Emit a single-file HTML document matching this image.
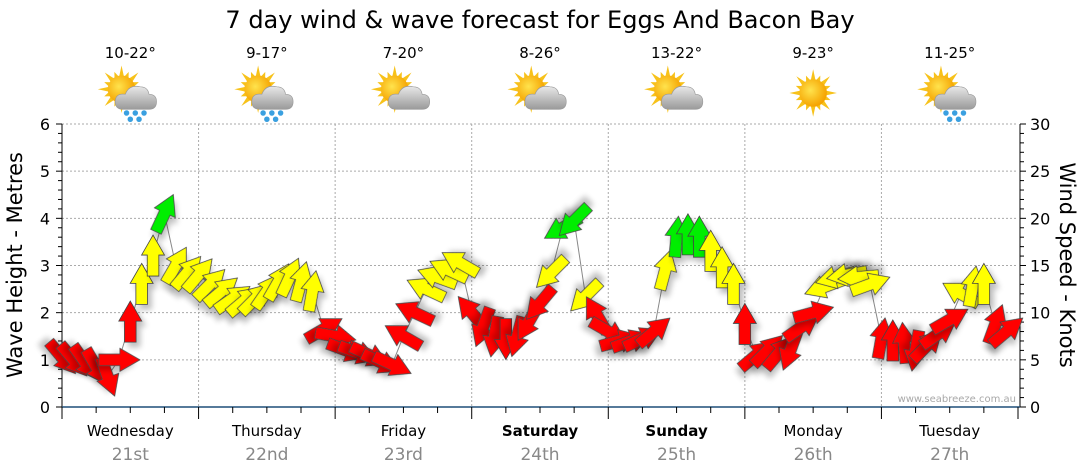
<!DOCTYPE html>
<html><head><meta charset="utf-8">
<style>
html,body{margin:0;padding:0;background:#fff;}
svg{display:block;font-family:"DejaVu Sans","Liberation Sans",sans-serif;}
</style></head>
<body>
<svg id="chart" width="1080" height="475" viewBox="0 0 1080 475" xmlns="http://www.w3.org/2000/svg">
<defs>
<filter id="sh" x="-50%" y="-50%" width="200%" height="200%"><feGaussianBlur in="SourceAlpha" stdDeviation="3"/><feOffset dx="4" dy="5" result="b"/><feComponentTransfer><feFuncA type="linear" slope="0.25"/></feComponentTransfer><feMerge><feMergeNode/><feMergeNode in="SourceGraphic"/></feMerge></filter>
<radialGradient id="sunG" cx="0.4" cy="0.4" r="0.6"><stop offset="0" stop-color="#ffe34d"/><stop offset="1" stop-color="#f5a300"/></radialGradient>
<linearGradient id="cloudG" x1="0" y1="0" x2="0" y2="1"><stop offset="0" stop-color="#e8e8e8"/><stop offset="1" stop-color="#9a9a9a"/></linearGradient>
</defs>
<text x="540" y="28" text-anchor="middle" font-size="24" fill="#000">7 day wind &amp; wave forecast for Eggs And Bacon Bay</text>
<g id="grid"></g>
<g id="axes"></g>
<g id="icons"></g>
<g id="series"></g>
<text transform="translate(22,265) rotate(-90)" text-anchor="middle" font-size="21" fill="#000">Wave Height - Metres</text>
<text transform="translate(1060,265) rotate(90)" text-anchor="middle" font-size="21" fill="#000">Wind Speed - Knots</text>
<text x="1016" y="402" text-anchor="end" font-size="10" fill="#a8a8a8">www.seabreeze.com.au</text>
</svg>
<script>
const dayNames = ["Wednesday","Thursday","Friday","Saturday","Sunday","Monday","Tuesday"];
const dayDates = ["21st","22nd","23rd","24th","25th","26th","27th"];
const boldDays = [false,false,false,true,true,false,false];
const tempLabels = ["10-22°","9-17°","7-20°","8-26°","13-22°","9-23°","11-25°"];
const weatherTypes = ["rain","rain","cloud","cloud","cloud","sun","rain"];
const waveTicks = [0,1,2,3,4,5,6];
const windTicks = [0,5,10,15,20,25,30];
// hours from start (2-hourly)
const hours = [0,2,4,6,8,10,12,14,16,18,20,22,24,26,28,30,32,34,36,38,40,42,44,46,48,50,52,54,56,58,60,62,64,66,68,70,72,74,76,78,80,82,84,86,88,90,92,94,96,98,100,102,104,106,108,110,112,114,116,118,120,122,124,126,128,130,132,134,136,138,140,142,144,146,148,150,152,154,156,158,160,162,164,166];
const waveHeight = [1.05,1.0,0.95,0.85,0.65,1.0,1.8,2.6,3.2,4.1,3.0,2.85,
 2.8,2.6,2.45,2.3,2.25,2.3,2.45,2.65,2.75,2.65,2.45,1.65,
 1.5,1.2,1.15,1.1,0.95,0.9,1.5,2.0,2.5,2.75,2.9,3.05,
 2.0,1.7,1.5,1.45,1.5,1.8,2.2,2.85,3.8,3.95,2.35,1.95,
 1.6,1.4,1.4,1.45,1.6,2.9,3.6,3.65,3.6,3.3,2.95,2.6,
 1.75,1.1,1.2,1.15,1.2,1.7,2.0,2.55,2.75,2.8,2.75,2.6,
 1.45,1.4,1.35,1.2,1.3,1.55,1.85,2.4,2.55,2.6,1.75,1.6];
const windDir = [140,140,145,150,160,90,0,0,0,25,30,40,
 40,45,50,55,50,45,35,30,25,15,10,60,
 100,110,110,115,115,115,300,295,295,290,295,300,
 320,200,190,180,195,210,220,225,240,225,225,330,
 120,75,70,65,50,15,5,0,0,0,0,0,
 0,50,45,40,200,55,75,250,255,260,265,70,
 10,0,355,190,45,55,60,300,10,0,20,50];
const windSpeed = [7,7,7,7,7,8,8,12,13,19,14,14,
 14,14,13,13,13,13,13,14,14,14,13,9,
 8,7,7,7,7,7,8,9,12,12,13,13,
 8,8,8,8,8,9,9,12,19,19,12,8,
 8,7,7,7,8,12,18,19,18,14,13,13,
 9,7,7,7,7,8,9,12,13,13,13,12,
 8,8,8,8,7,8,9,12,13,14,9,9];

const NS="http://www.w3.org/2000/svg";
const X0=62, X1=1018, Y0=407, YT=124;
const xT = h => X0 + h*(X1-X0)/168;
const yW = m => Y0 - m*(Y0-YT)/6;
const yK = k => Y0 - k*(Y0-YT)/30;
function mk(tag, attrs, parent){const e=document.createElementNS(NS,tag);for(const k in attrs)e.setAttribute(k,attrs[k]);parent.appendChild(e);return e;}
const grid=document.getElementById('grid'), axes=document.getElementById('axes'), icons=document.getElementById('icons'), series=document.getElementById('series');

waveTicks.forEach(v=>{ if(v>0){const l=mk('line',{x1:X0,x2:X1,y1:yW(v),y2:yW(v),stroke:'#aaa','stroke-dasharray':'2,2','stroke-width':1},grid);

}});
for(let d=1;d<7;d++){const l=mk('line',{x1:xT(d*24),x2:xT(d*24),y1:YT,y2:Y0,stroke:'#aaa','stroke-dasharray':'2,2','stroke-width':1},grid);

}

mk('line',{x1:X0,x2:X0,y1:YT,y2:Y0,stroke:'#000'},axes);
for(let i=0;i<=30;i++){const v=i*0.2;const y=yW(v);const maj=i%5===0;mk('line',{x1:X0-(maj?6:4),x2:X0,y1:y,y2:y,stroke:'#000'},axes);}
waveTicks.forEach(v=>{const t=mk('text',{x:X0-12,y:yW(v)+6,'text-anchor':'end','font-size':16,fill:'#000'},axes);t.textContent=v;

});
mk('line',{x1:X1+2,x2:X1+2,y1:YT,y2:Y0,stroke:'#000'},axes);
for(let k=0;k<=30;k++){const y=yK(k);const maj=k%5===0;mk('line',{x1:X1+2,x2:X1+2+(maj?6:4),y1:y,y2:y,stroke:'#000'},axes);}
windTicks.forEach(v=>{const t=mk('text',{x:X1+12,y:yK(v)+6,'text-anchor':'start','font-size':16,fill:'#000'},axes);t.textContent=v;

});
mk('line',{x1:X0,x2:X1+2,y1:Y0,y2:Y0,stroke:'#1f4e79','stroke-width':1.5},axes);
for(let h=0;h<=168;h+=6){const x=xT(h);const maj=h%24===0;mk('line',{x1:x,x2:x,y1:Y0,y2:Y0+(maj?12:6),stroke:'#000'},axes);}
dayNames.forEach((n,i)=>{const cx=xT(i*24+12);
 const t=mk('text',{x:cx,y:436,'text-anchor':'middle','font-size':15,fill:'#000','font-weight':boldDays[i]?'bold':'normal'},axes);t.textContent=n;
 
 
 const d=mk('text',{x:cx,y:460,'text-anchor':'middle','font-size':17,fill:'#888'},axes);d.textContent=dayDates[i];
 
 
 const tl=mk('text',{x:cx,y:58,'text-anchor':'middle','font-size':15,fill:'#000'},icons);tl.textContent=tempLabels[i];
 
 
 const g=mk('g',{transform:`translate(${cx},93) scale(1.25)`},icons);
 
 
 const type=weatherTypes[i];
 const sx= type==='sun'?0:-7, sy= type==='sun'?0:-3;
 for(let r=0;r<16;r++){const a=r*Math.PI/8;const L=(r%2?15:19);
   const p=[[sx+Math.cos(a)*L,sy+Math.sin(a)*L],[sx+Math.cos(a+0.2)*10,sy+Math.sin(a+0.2)*10],[sx+Math.cos(a-0.2)*10,sy+Math.sin(a-0.2)*10]];
   mk('polygon',{points:p.map(q=>q.join(',')).join(' '),fill:'#f7c21a'},g);}
 mk('circle',{cx:sx,cy:sy,r:11,fill:'url(#sunG)'},g);
 if(type!=='sun'){
   mk('path',{d:'M-6,13 Q-12,13 -12,7 Q-12,0 -4,1 Q-1,-7 8,-5 Q14,-5 15,1 Q21,1 21,7 Q21,13 15,13 Z',fill:'url(#cloudG)',stroke:'#999','stroke-width':0.5},g);
 }
 if(type==='rain'){[[-3,16],[4,16],[11,16],[0,21],[7,21]].forEach(q=>mk('circle',{cx:q[0],cy:q[1],r:2.2,fill:'#3aa0e0'},g));}
});

const pts=hours.map((h,i)=>[xT(h),yW(waveHeight[i])]);
const ln=mk('polyline',{points:pts.map(p=>p.join(',')).join(' '),fill:'none',stroke:'#888','stroke-width':1},series);


const arrowPts="0,-21 11.5,-1 5.8,-1 5.8,20 -5.8,20 -5.8,-1 -11.5,-1";
const colorFor = s => s<10?'#ff0000':(s<17?'#ffff00':'#00ee00');
hours.forEach((h,i)=>{
 const a=mk('polygon',{points:arrowPts,transform:`translate(${xT(h)},${yW(waveHeight[i])}) rotate(${windDir[i]})`,fill:colorFor(windSpeed[i]),stroke:'#444','stroke-width':0.8,filter:'url(#sh)'},series);
 
 
});
</script>
</body></html>
